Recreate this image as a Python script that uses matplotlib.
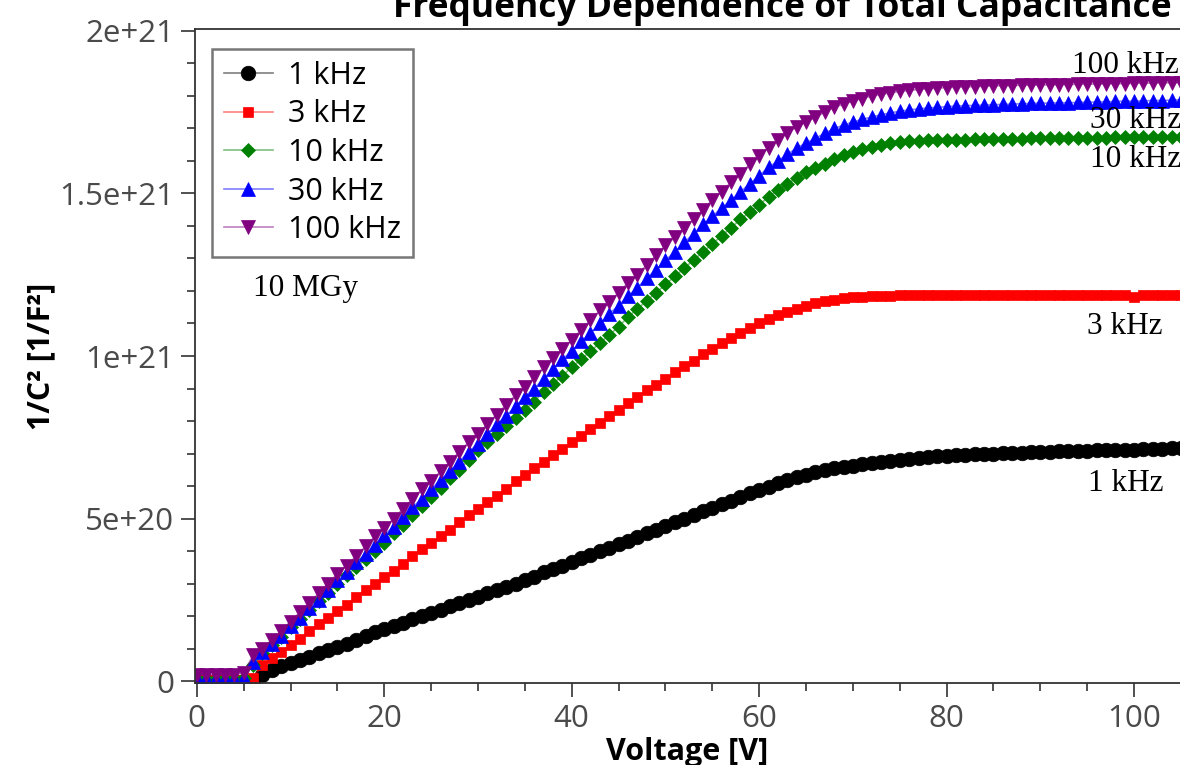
import numpy as np
import matplotlib
matplotlib.use("Agg")
import matplotlib.pyplot as plt
from matplotlib.ticker import MultipleLocator

# bias voltage in V, one reading per volt
voltage = np.arange(0, 106)

# 1/C^2 in units of 1e21 1/F^2
inv_c2_1khz = [
    0.0, 0.0, 0.0, 0.0, 0.0, 0.0, 0.0, 0.02, 0.035, 0.045,
    0.055, 0.065, 0.075, 0.085, 0.095, 0.105, 0.115, 0.125, 0.14, 0.15,
    0.16, 0.17, 0.18, 0.19, 0.20, 0.21, 0.22, 0.23, 0.24, 0.25,
    0.26, 0.27, 0.28, 0.29, 0.30, 0.31, 0.32, 0.335, 0.345, 0.355,
    0.367, 0.378, 0.389, 0.40, 0.41, 0.421, 0.432, 0.443, 0.455, 0.466,
    0.478, 0.489, 0.50, 0.511, 0.522, 0.533, 0.544, 0.555, 0.566, 0.577,
    0.588, 0.598, 0.608, 0.618, 0.627, 0.635, 0.642, 0.648, 0.654, 0.659,
    0.663, 0.667, 0.671, 0.675, 0.678, 0.681, 0.684, 0.687, 0.689, 0.691,
    0.693, 0.695, 0.696, 0.698, 0.699, 0.700, 0.701, 0.702, 0.703, 0.704,
    0.705, 0.706, 0.707, 0.708, 0.708, 0.709, 0.710, 0.710, 0.711, 0.712,
    0.712, 0.713, 0.714, 0.715, 0.716, 0.717,
]
inv_c2_3khz = [
    0.003, 0.003, 0.003, 0.003, 0.003, 0.003, 0.01, 0.05, 0.07, 0.09,
    0.11, 0.13, 0.155, 0.175, 0.195, 0.215, 0.235, 0.26, 0.28, 0.30,
    0.32, 0.34, 0.36, 0.385, 0.405, 0.425, 0.445, 0.465, 0.49, 0.51,
    0.53, 0.55, 0.57, 0.59, 0.615, 0.635, 0.655, 0.675, 0.695, 0.715,
    0.735, 0.755, 0.775, 0.795, 0.815, 0.835, 0.855, 0.875, 0.895, 0.91,
    0.93, 0.95, 0.97, 0.985, 1.005, 1.02, 1.04, 1.055, 1.07, 1.085,
    1.10, 1.115, 1.125, 1.135, 1.145, 1.155, 1.162, 1.168, 1.173, 1.177,
    1.180, 1.182, 1.184, 1.185, 1.186, 1.187, 1.187, 1.187, 1.187, 1.187,
    1.187, 1.187, 1.187, 1.187, 1.187, 1.187, 1.187, 1.187, 1.187, 1.187,
    1.187, 1.187, 1.187, 1.187, 1.187, 1.187, 1.187, 1.187, 1.187, 1.187,
    1.183, 1.187, 1.187, 1.187, 1.187, 1.187,
]
inv_c2_10khz = [
    0.005, 0.005, 0.005, 0.005, 0.005, 0.01, 0.05, 0.085, 0.11, 0.135,
    0.165, 0.19, 0.22, 0.245, 0.27, 0.30, 0.325, 0.35, 0.375, 0.40,
    0.425, 0.455, 0.48, 0.51, 0.54, 0.565, 0.595, 0.625, 0.65, 0.68,
    0.71, 0.735, 0.76, 0.785, 0.81, 0.835, 0.86, 0.89, 0.915, 0.94,
    0.965, 0.99, 1.015, 1.04, 1.065, 1.09, 1.12, 1.145, 1.17, 1.195,
    1.22, 1.245, 1.27, 1.295, 1.32, 1.345, 1.37, 1.395, 1.42, 1.443,
    1.465, 1.49, 1.51, 1.53, 1.548, 1.565, 1.578, 1.592, 1.605, 1.618,
    1.628, 1.636, 1.643, 1.649, 1.654, 1.658, 1.660, 1.662, 1.663, 1.664,
    1.665, 1.666, 1.666, 1.667, 1.667, 1.668, 1.668, 1.669, 1.669, 1.670,
    1.670, 1.671, 1.671, 1.671, 1.672, 1.672, 1.672, 1.672, 1.673, 1.673,
    1.673, 1.673, 1.674, 1.674, 1.674, 1.674,
]
inv_c2_30khz = [
    0.005, 0.005, 0.005, 0.005, 0.005, 0.01, 0.06, 0.09, 0.115, 0.14,
    0.17, 0.195, 0.225, 0.25, 0.28, 0.31, 0.335, 0.365, 0.39, 0.42,
    0.45, 0.475, 0.505, 0.535, 0.56, 0.59, 0.62, 0.645, 0.675, 0.705,
    0.73, 0.76, 0.79, 0.815, 0.845, 0.875, 0.90, 0.93, 0.96, 0.99,
    1.015, 1.045, 1.07, 1.10, 1.13, 1.155, 1.185, 1.21, 1.24, 1.265,
    1.295, 1.32, 1.35, 1.375, 1.405, 1.43, 1.455, 1.48, 1.505, 1.53,
    1.555, 1.58, 1.60, 1.62, 1.64, 1.655, 1.67, 1.685, 1.70, 1.71,
    1.72, 1.728, 1.735, 1.742, 1.748, 1.753, 1.757, 1.760, 1.763, 1.765,
    1.767, 1.769, 1.770, 1.771, 1.772, 1.773, 1.774, 1.775, 1.776, 1.777,
    1.778, 1.778, 1.779, 1.779, 1.780, 1.781, 1.781, 1.782, 1.783, 1.784,
    1.784, 1.785, 1.786, 1.786, 1.787, 1.788,
]
inv_c2_100khz = [
    0.02, 0.02, 0.02, 0.02, 0.02, 0.025, 0.08, 0.10, 0.125, 0.154,
    0.183, 0.212, 0.24, 0.27, 0.30, 0.33, 0.355, 0.385, 0.415, 0.445,
    0.47, 0.50, 0.53, 0.56, 0.59, 0.615, 0.645, 0.675, 0.705, 0.735,
    0.76, 0.79, 0.82, 0.85, 0.88, 0.905, 0.935, 0.965, 0.995, 1.02,
    1.05, 1.08, 1.11, 1.14, 1.165, 1.195, 1.225, 1.25, 1.28, 1.31,
    1.34, 1.365, 1.395, 1.42, 1.45, 1.48, 1.505, 1.535, 1.56, 1.59,
    1.615, 1.64, 1.665, 1.685, 1.705, 1.72, 1.735, 1.75, 1.765, 1.775,
    1.785, 1.792, 1.80, 1.805, 1.81, 1.814, 1.817, 1.82, 1.822, 1.824,
    1.826, 1.827, 1.828, 1.829, 1.830, 1.831, 1.832, 1.832, 1.833, 1.833,
    1.834, 1.834, 1.835, 1.835, 1.836, 1.836, 1.837, 1.837, 1.838, 1.838,
    1.839, 1.839, 1.840, 1.840, 1.841, 1.841,
]

series_labels = ["1 kHz", "3 kHz", "10 kHz", "30 kHz", "100 kHz"]
series_data = [inv_c2_1khz, inv_c2_3khz, inv_c2_10khz, inv_c2_30khz, inv_c2_100khz]
series_colors = ["black", "red", "green", "blue", "purple"]
series_markers = ["o", "s", "D", "^", "v"]
series_msize = [10.5, 7, 7, 10.5, 10.5]

ytick_vals = [0, 5e20, 1e21, 1.5e21, 2e21]
ytick_labels = ["0", "5e+20", "1e+21", "1.5e+21", "2e+21"]

# labels written next to the curves (x in V, y in 1e21)
curve_notes = ["100 kHz", "30 kHz", "10 kHz", "3 kHz", "1 kHz"]
note_x = [93.4, 95.3, 95.3, 95.0, 95.1]
note_y = [1.895, 1.726, 1.603, 1.092, 0.609]

sans = "Open Sans"
tickcol = "#4a4a4a"

fig = plt.figure(figsize=(11.8, 7.65), dpi=100)
ax = fig.add_axes([195 / 1180, 82 / 765, 985 / 1180, 654 / 765])

for lab, vals, col, mk, ms in zip(series_labels, series_data, series_colors,
                                  series_markers, series_msize):
    rgba = matplotlib.colors.to_rgba(col, 0.5)
    ax.plot(voltage, np.array(vals) * 1e21, color=rgba, lw=1.2,
            marker=mk, markersize=ms, markerfacecolor=col,
            markeredgecolor=col, markeredgewidth=0.5, label=lab)

ax.set_xlim(-0.2, 104.9)
ax.set_ylim(-0.006e21, 2.006e21)

ax.set_yticks(ytick_vals)
ax.set_yticklabels(ytick_labels)
ax.yaxis.set_minor_locator(MultipleLocator(1e20))
ax.xaxis.set_major_locator(MultipleLocator(20))
ax.xaxis.set_minor_locator(MultipleLocator(5))

ax.tick_params(which="major", length=10, width=1.2, color="#333333",
               labelsize=22.5, labelcolor=tickcol, pad=5)
ax.tick_params(which="minor", length=5.5, width=1.2, color="#333333")
for lbl in ax.get_xticklabels() + ax.get_yticklabels():
    lbl.set_fontfamily(sans)

for side in ["left", "bottom", "top"]:
    ax.spines[side].set_color("#333333")
    ax.spines[side].set_linewidth(1.3)
ax.spines["right"].set_visible(False)

ax.set_xlabel("Voltage [V]", fontsize=22, fontweight="bold", family=sans,
              labelpad=2)
ax.set_ylabel("1/C² [1/F²]", fontsize=22, fontweight="bold", family=sans,
              labelpad=2)

fig.text(782 / 1180, 1 - 17 / 765, "Frequency Dependence of Total Capacitance",
         ha="center", va="baseline", fontsize=25.5, fontweight="bold", family=sans)

leg = ax.legend(loc="upper left", bbox_to_anchor=(0.017, 0.97), fancybox=False,
                framealpha=1, edgecolor="#777777", prop={"family": sans, "size": 22},
                handlelength=1.6, borderpad=0.4, labelspacing=0.28,
                handletextpad=0.5, borderaxespad=0.0)
leg.get_frame().set_linewidth(1.8)

for txt, tx, ty in zip(curve_notes, note_x, note_y):
    ax.text(tx, ty * 1e21, txt, family="Liberation Serif", fontsize=22.5,
            ha="left", va="center")
ax.text(6.0, 1.209e21, "10 MGy", family="Liberation Serif", fontsize=22.5,
        ha="left", va="center")

fig.savefig("out.png", dpi=100)
